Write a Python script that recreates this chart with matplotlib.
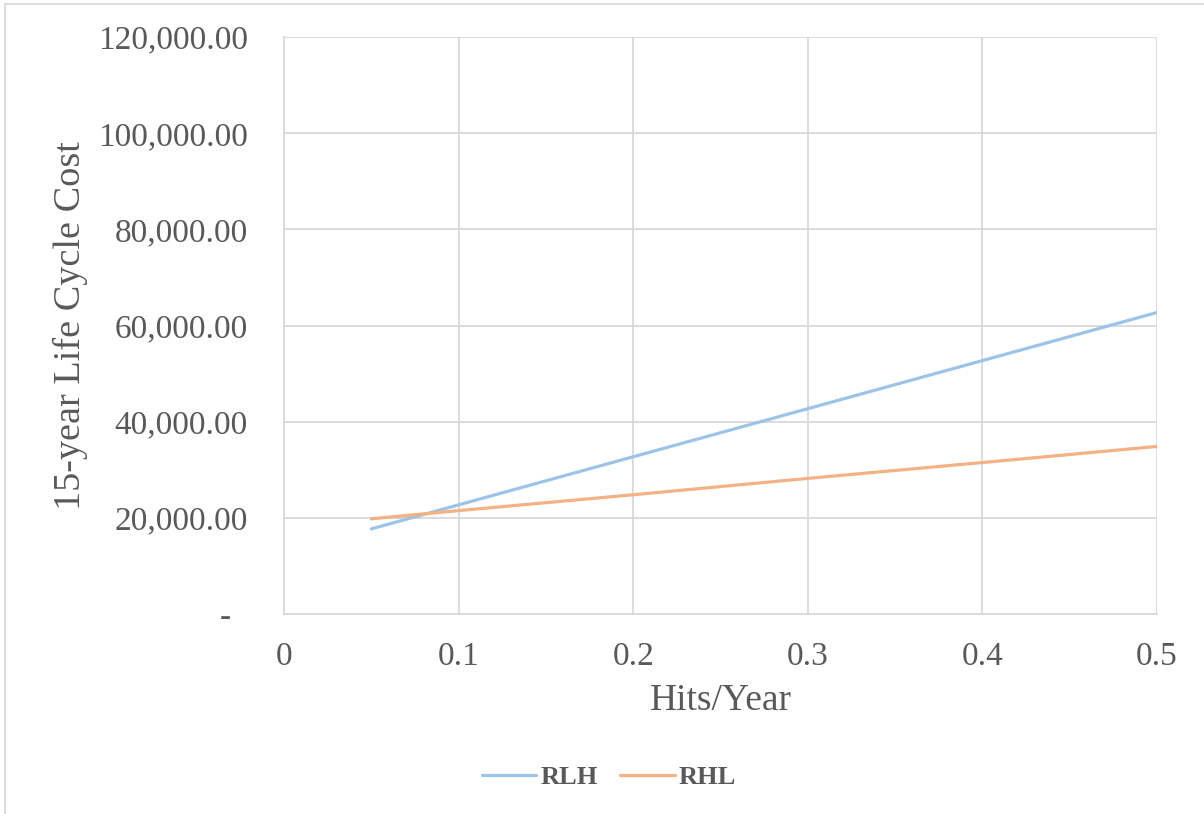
import matplotlib.pyplot as plt
from matplotlib.ticker import FuncFormatter
from matplotlib.patches import Rectangle

# Data
hits = [0.05, 0.1, 0.2, 0.3, 0.4, 0.5]
rlh = [17700, 22700, 32700, 42700, 52700, 62700]
rhl = [19800, 21500, 24800, 28200, 31500, 34850]

grey = '#595959'
grid_c = '#D9D9D9'
plt.rcParams['font.family'] = ['Liberation Serif', 'DejaVu Serif']

fig = plt.figure(figsize=(12.04, 8.14), dpi=100)
ax = fig.add_axes([284 / 1204, 1 - 614 / 814, (1157 - 284) / 1204, (614 - 37) / 814])

ax.plot(hits, rlh, color='#9DC3E6', linewidth=2.3, label='RLH', solid_capstyle='round')
ax.plot(hits, rhl, color='#F4B183', linewidth=2.3, label='RHL', solid_capstyle='round')

ax.set_xlim(0, 0.5)
ax.set_ylim(0, 120000)
ax.set_xticks([0, 0.1, 0.2, 0.3, 0.4, 0.5])
ax.set_xticklabels(['0', '0.1', '0.2', '0.3', '0.4', '0.5'])
ax.set_yticks(range(0, 120001, 20000))
ax.yaxis.set_major_formatter(FuncFormatter(lambda v, p: '-  ' if v == 0 else f'{v:,.2f}'))

ax.grid(True, color=grid_c, linewidth=1.3)
ax.set_axisbelow(True)
for s in ['top', 'right']:
    ax.spines[s].set_visible(False)
for s in ['left', 'bottom']:
    ax.spines[s].set_color(grid_c)
    ax.spines[s].set_linewidth(1.3)
ax.tick_params(length=0, labelsize=24, colors=grey)
ax.tick_params(axis='y', pad=26)
ax.tick_params(axis='x', pad=20)

ax.set_xlabel('Hits/Year', fontsize=27, color=grey, labelpad=8)
ax.set_ylabel('15-year Life Cycle Cost', fontsize=27.5, color=grey, labelpad=7)

leg = fig.legend(loc='center', bbox_to_anchor=(609 / 1204, 1 - 777 / 814), ncol=2,
                 frameon=False, handlelength=2.05, columnspacing=0.87, handletextpad=0.15,
                 prop={'size': 19, 'weight': 'bold'})
for t in leg.get_texts():
    t.set_color(grey)

# chart border
fig.patches.append(Rectangle((5 / 1204, -0.01), 1.02, 1 - 4 / 814 + 0.01, transform=fig.transFigure,
                             fill=False, edgecolor=grid_c, linewidth=1.3))

fig.savefig('out.png', dpi=100)
